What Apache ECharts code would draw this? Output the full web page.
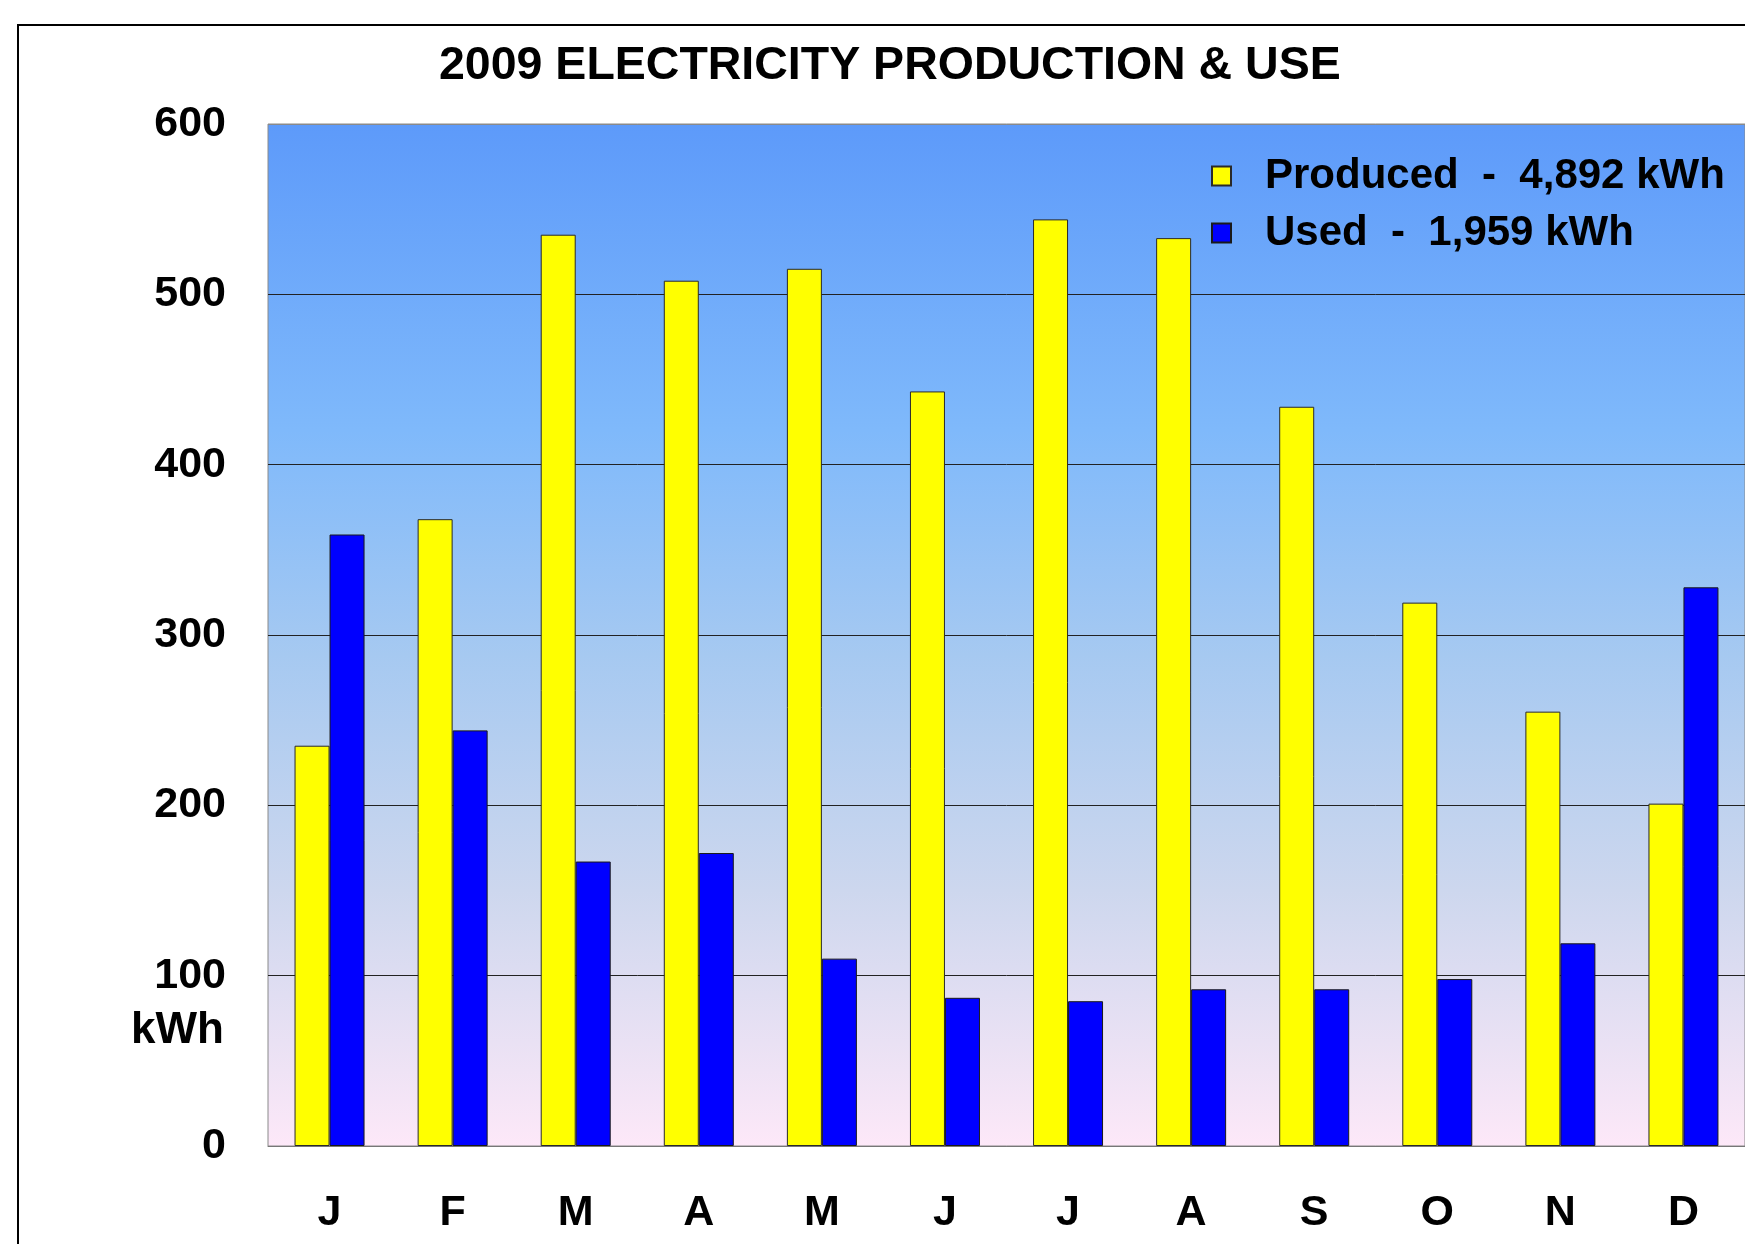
<!DOCTYPE html>
<html>
<head>
<meta charset="UTF-8">
<title>2009 Electricity Production & Use</title>
<script src="https://cdn.jsdelivr.net/npm/echarts@6/dist/echarts.min.js"></script>
<style>
 html,body{margin:0;padding:0;background:#fff;}
 #main{width:1745px;height:1244px;}
</style>
</head>
<body>
<div id="main"></div>
<script type="text/javascript">
// months
var months = ['J','F','M','A','M','J','J','A','S','O','N','D'];
// kWh produced per month
var produced = [235, 368, 535, 508, 515, 443, 544, 533, 434, 319, 255, 201];
// kWh used per month
var used = [359, 244, 167, 172, 110, 87, 85, 92, 92, 98, 119, 328];
// totals as printed in the legend
var producedTotal = '4,892';
var usedTotal = '1,959';
var yTicks = [0, 100, 200, 300, 400, 500, 600];

var font = 'Liberation Sans, Arial, sans-serif';
var myChart = echarts.init(document.getElementById('main'));

var option = {
    backgroundColor: '#ffffff',
    animation: false,
    title: {
        text: '2009 ELECTRICITY PRODUCTION & USE',
        left: 434,
        top: 38,
        textStyle: {fontFamily: font, fontWeight: 'bold', fontSize: 46.5, color: '#000'}
    },
    legend: {
        orient: 'vertical',
        left: 1206,
        top: 150,
        itemWidth: 19,
        itemHeight: 19,
        itemGap: 15,
        icon: 'rect',
        data: ['Produced', 'Used'],
        formatter: function (name) {
            // legend text with the yearly totals
            return name == 'Produced' ? 'Produced  -  ' + producedTotal + ' kWh' : 'Used  -  ' + usedTotal + ' kWh';
        },
        textStyle: {fontFamily: font, fontWeight: 'bold', fontSize: 42, color: '#000', padding: [0, 0, 0, 29]}
    },
    grid: {
        left: 268,
        right: 0,
        top: 124,
        bottom: 98,
        show: true,
        borderColor: '#8a8a8a',
        borderWidth: 1,
        backgroundColor: {
            type: 'linear', x: 0, y: 0, x2: 0, y2: 1,
            colorStops: [
                {offset: 0, color: '#5d9afa'},
                {offset: 0.3, color: '#7fb9fb'},
                {offset: 0.52, color: '#a6c9f1'},
                {offset: 0.75, color: '#cdd7ee'},
                {offset: 1, color: '#fde8f8'}
            ]
        }
    },
    xAxis: {
        type: 'category',
        data: months,
        axisTick: {show: false},
        axisLine: {lineStyle: {color: '#777', width: 1}},
        axisLabel: {fontFamily: font, fontWeight: 'bold', fontSize: 43, color: '#000', margin: 46}
    },
    yAxis: {
        type: 'value',
        min: yTicks[0],
        max: yTicks[yTicks.length - 1],
        interval: 100,
        axisTick: {show: false},
        axisLine: {show: false},
        splitLine: {lineStyle: {color: ['#777', '#222', '#222', '#222', '#222', '#222', '#8a8a8a'], width: 1}},
        axisLabel: {fontFamily: font, fontWeight: 'bold', fontSize: 43, color: '#000', margin: 42}
    },
    series: [
        {
            name: 'Produced',
            type: 'bar',
            data: produced,
            barWidth: 35,
            barGap: '0%',
            itemStyle: {color: '#ffff00', borderColor: '#2a2a2a', borderWidth: 1}
        },
        {
            name: 'Used',
            type: 'bar',
            data: used,
            barWidth: 35,
            barGap: '0%',
            itemStyle: {color: '#0000ff', borderColor: '#1a1a1a', borderWidth: 1}
        }
    ]
};
myChart.setOption(option);

// outer frame and the kWh unit under the 100 label
var y100 = myChart.convertToPixel({yAxisIndex: 0}, 100);
myChart.setOption({
    graphic: [
        {
            type: 'rect',
            shape: {x: 18, y: 25, width: 1800, height: 1400},
            style: {fill: 'none', stroke: '#000', lineWidth: 2},
            silent: true
        },
        {
            type: 'text',
            x: 224,
            y: y100 + 55,
            style: {
                text: 'kWh', fontFamily: font, fontWeight: 'bold', fontSize: 44, fill: '#000',
                align: 'right', verticalAlign: 'middle'
            }
        }
    ]
});
</script>
</body>
</html>
